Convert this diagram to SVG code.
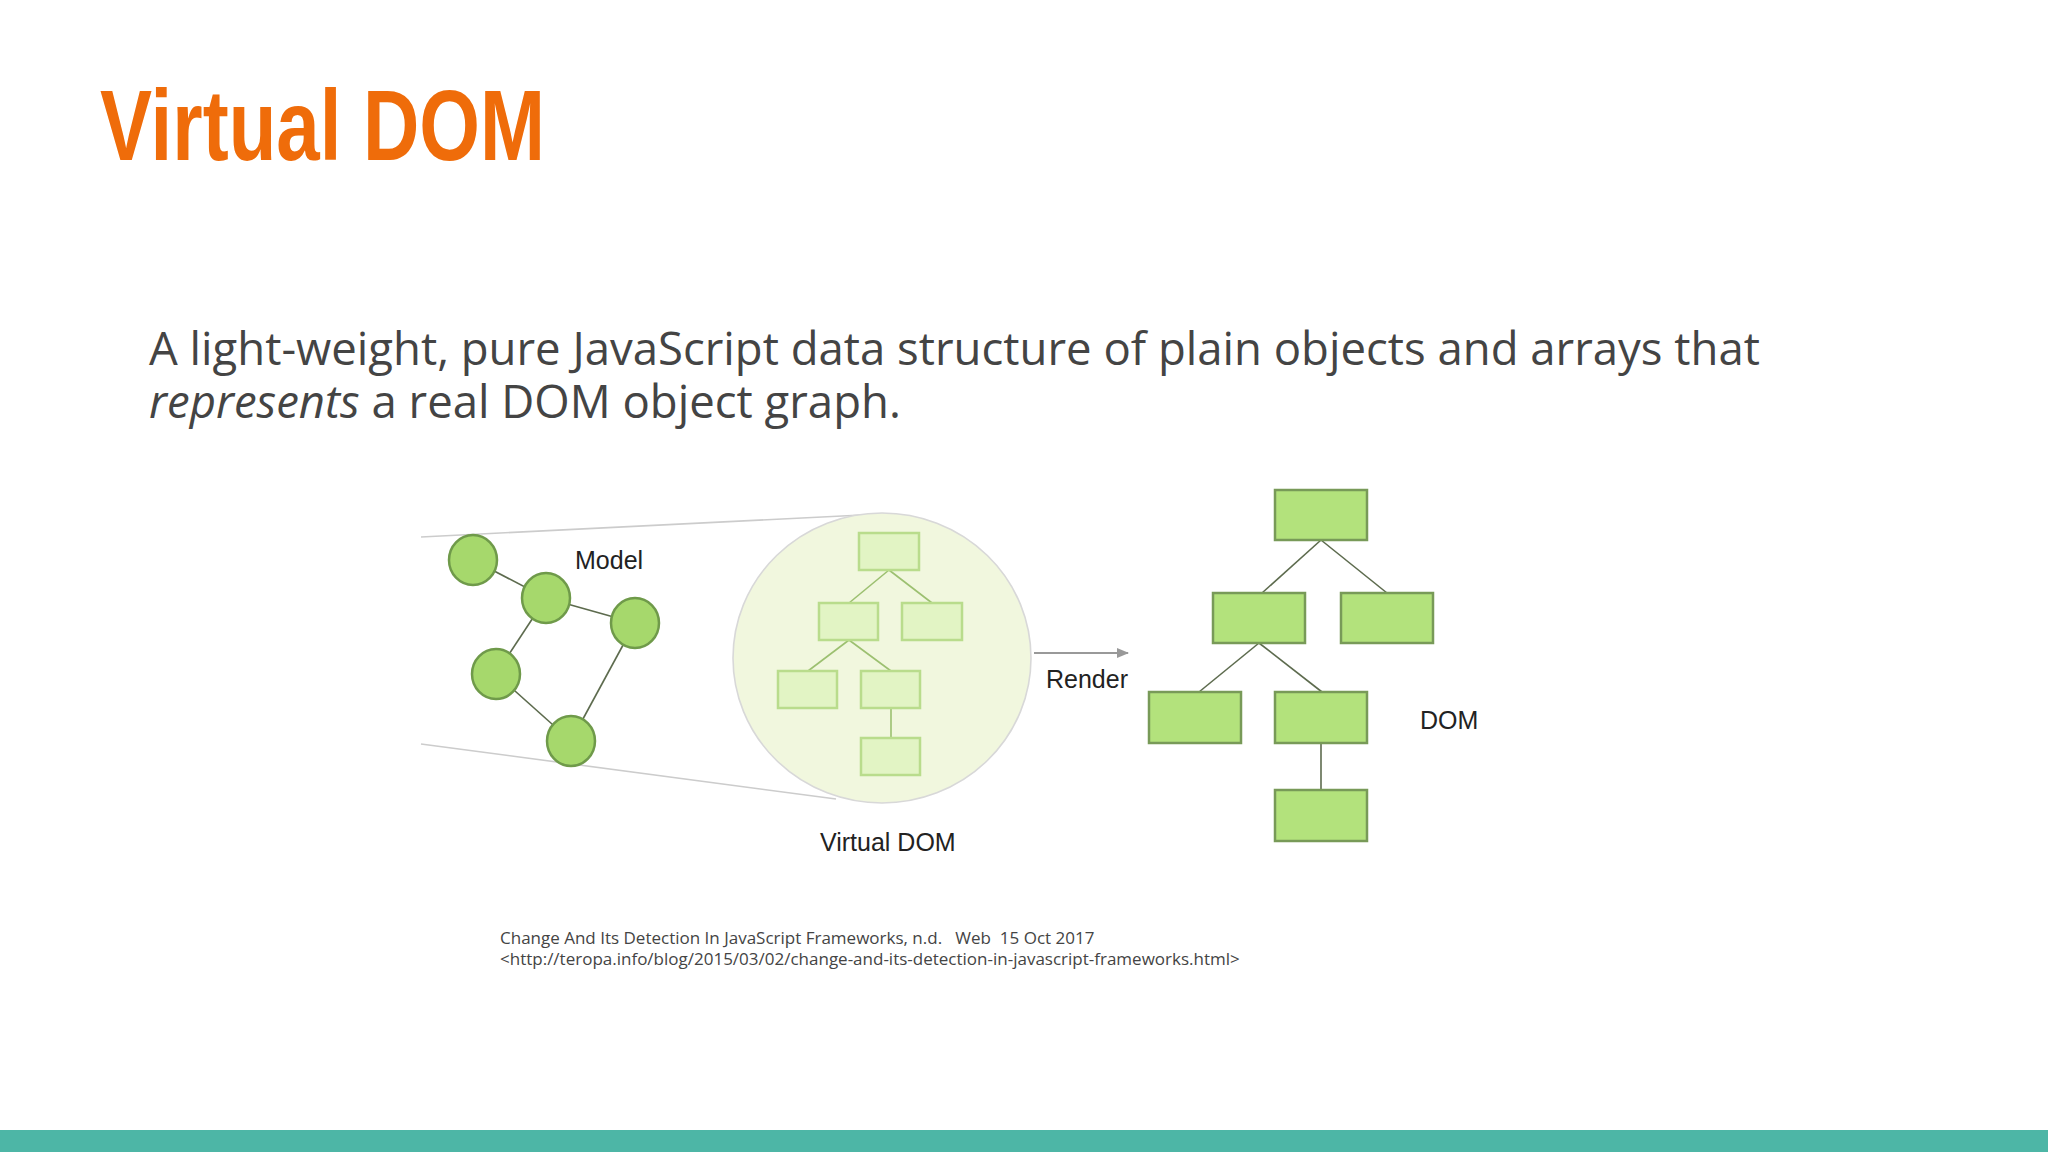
<svg xmlns="http://www.w3.org/2000/svg" width="2048" height="1152" viewBox="0 0 2048 1152">
<style>
.mc{fill:#a6d86c;stroke:#6f9a4a;stroke-width:2.5}
.vb{fill:#e2f4c4;stroke:#b9dc8c;stroke-width:2.5}
.db{fill:#b3e27c;stroke:#789a58;stroke-width:2.5}
.ln{stroke:#5d6b4e;stroke-width:1.6;fill:none}
.vl{stroke:#9cc070;stroke-width:1.6;fill:none}
.lb{font-family:"Liberation Sans",Arial,sans-serif;font-size:25px;fill:#222}
</style>
<defs><marker id="ah" markerWidth="12" markerHeight="10" refX="11" refY="5" orient="auto" markerUnits="userSpaceOnUse"><path d="M0,0 L12,5 L0,10 Z" fill="#999"/></marker></defs>
<rect width="2048" height="1152" fill="#fff"/>
<text x="100" y="160" font-family="Liberation Sans,Arial,sans-serif" font-weight="bold" font-size="100" fill="#ef6c0a" textLength="445" lengthAdjust="spacingAndGlyphs">Virtual DOM</text>
<text x="149" y="365" font-family="Open Sans,sans-serif" font-size="45.5" fill="#444">A light-weight, pure JavaScript data structure of plain objects and arrays that</text>
<text x="149" y="418" font-family="Open Sans,sans-serif" font-size="45.5" fill="#444"><tspan font-style="italic">represents</tspan> a real DOM object graph.</text>
<g id="cone"><line x1="421" y1="537" x2="882" y2="514" style="stroke:#ccc;stroke-width:1.6"/><line x1="421" y1="744" x2="836" y2="799" style="stroke:#ccc;stroke-width:1.6"/></g>
<g id="vdom-circle"><ellipse cx="882" cy="658" rx="149" ry="145" fill="#f1f7de" stroke="#d8d8d8" stroke-width="1.6"/></g>
<g id="connectors">
<line class="ln" x1="473" y1="560" x2="546" y2="598"/>
<line class="ln" x1="546" y1="598" x2="635" y2="623"/>
<line class="ln" x1="546" y1="598" x2="496" y2="674"/>
<line class="ln" x1="496" y1="674" x2="571" y2="741"/>
<line class="ln" x1="571" y1="741" x2="635" y2="623"/>
<line class="vl" x1="889" y1="570" x2="849" y2="603"/>
<line class="vl" x1="889" y1="570" x2="932" y2="603"/>
<line class="vl" x1="849" y1="640" x2="808" y2="671"/>
<line class="vl" x1="849" y1="640" x2="891" y2="671"/>
<line class="vl" x1="891" y1="708" x2="891" y2="738"/>
<line class="ln" x1="1321" y1="540" x2="1262" y2="593"/>
<line class="ln" x1="1321" y1="540" x2="1387" y2="593"/>
<line class="ln" x1="1259" y1="643" x2="1199" y2="692"/>
<line class="ln" x1="1259" y1="643" x2="1322" y2="692"/>
<line class="ln" x1="1321" y1="743" x2="1321" y2="790"/>
<line x1="1034" y1="653" x2="1128" y2="653" stroke="#999" stroke-width="2" marker-end="url(#ah)"/>
</g>
<g id="model-nodes">
<ellipse class="mc" cx="473" cy="560" rx="24" ry="25"/>
<ellipse class="mc" cx="546" cy="598" rx="24" ry="25"/>
<ellipse class="mc" cx="635" cy="623" rx="24" ry="25"/>
<ellipse class="mc" cx="496" cy="674" rx="24" ry="25"/>
<ellipse class="mc" cx="571" cy="741" rx="24" ry="25"/>
</g>
<g id="vdom-nodes">
<rect class="vb" x="859" y="533" width="60" height="37"/>
<rect class="vb" x="819" y="603" width="59" height="37"/>
<rect class="vb" x="902" y="603" width="60" height="37"/>
<rect class="vb" x="778" y="671" width="59" height="37"/>
<rect class="vb" x="861" y="671" width="59" height="37"/>
<rect class="vb" x="861" y="738" width="59" height="37"/>
</g>
<g id="dom-nodes">
<rect class="db" x="1275" y="490" width="92" height="50"/>
<rect class="db" x="1213" y="593" width="92" height="50"/>
<rect class="db" x="1341" y="593" width="92" height="50"/>
<rect class="db" x="1149" y="692" width="92" height="51"/>
<rect class="db" x="1275" y="692" width="92" height="51"/>
<rect class="db" x="1275" y="790" width="92" height="51"/>
</g>
<g id="labels">
<text class="lb" x="575" y="569">Model</text>
<text class="lb" x="1046" y="688">Render</text>
<text class="lb" x="820" y="851">Virtual DOM</text>
<text class="lb" x="1420" y="729">DOM</text>
</g>
<text xml:space="preserve" x="500" y="944" font-family="Open Sans,sans-serif" font-size="17" fill="#444">Change And Its Detection In JavaScript Frameworks, n.d.   Web  15 Oct 2017</text>
<text x="500" y="965" font-family="Open Sans,sans-serif" font-size="17" fill="#444">&lt;http://teropa.info/blog/2015/03/02/change-and-its-detection-in-javascript-frameworks.html&gt;</text>
<rect x="0" y="1130" width="2048" height="22" fill="#4db6a6"/>
</svg>
